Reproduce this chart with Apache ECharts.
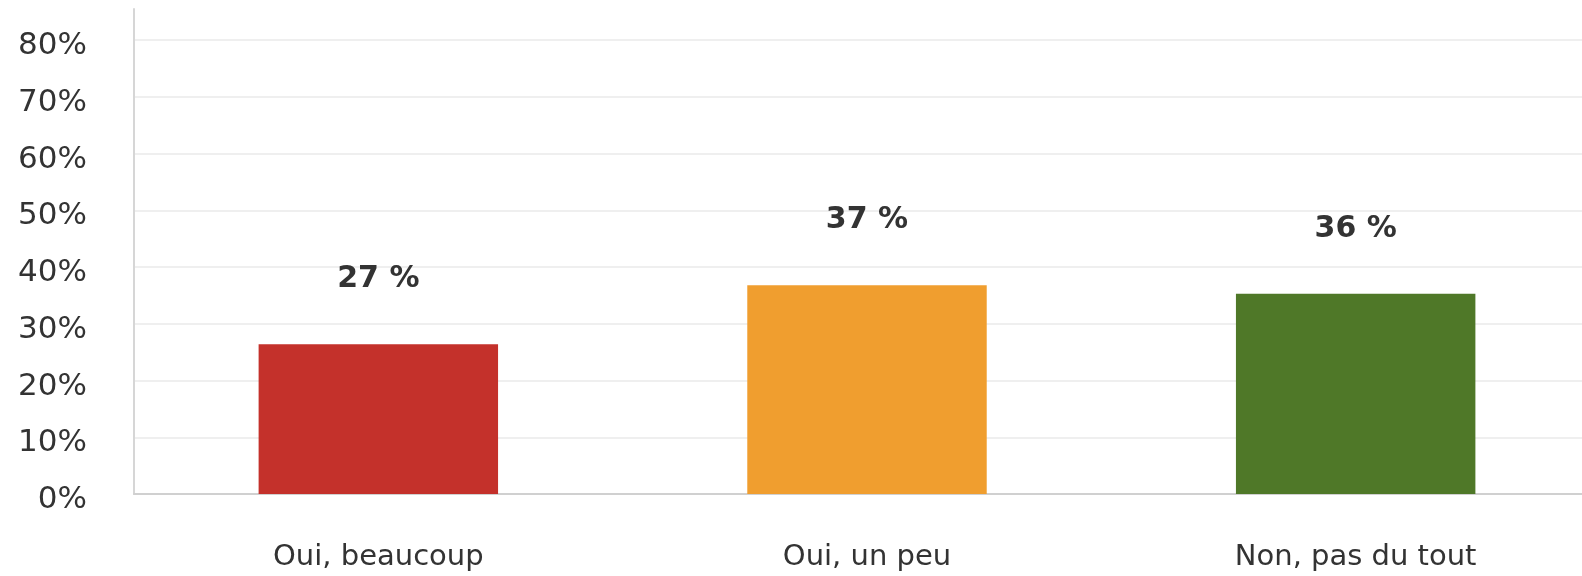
<!DOCTYPE html>
<html>
<head>
<meta charset="utf-8">
<style>
  html, body { margin: 0; padding: 0; background: #ffffff; overflow: hidden; }
  #chart { width: 1600px; height: 576px; }
</style>
<script src="https://cdn.jsdelivr.net/npm/echarts@6/dist/echarts.min.js"></script>
</head>
<body>
<div id="chart"></div>
<script>
const categories = ['Oui, beaucoup', 'Oui, un peu', 'Non, pas du tout'];
const values = [26.4, 36.8, 35.3];
const valueLabels = ['27 %', '37 %', '36 %'];
const barColors = ['#c4312b', '#f09e2f', '#4f7828'];
const yTickStep = 10;
const yMax = 85.5;

const chart = echarts.init(document.getElementById('chart'), null, { renderer: 'canvas' });

const gridColors = [];
for (let v = 0; v <= 80; v += yTickStep) gridColors.push('#efefef');
gridColors.push('rgba(0,0,0,0)');

chart.setOption({
  animation: false,
  backgroundColor: '#ffffff',
  grid: { left: 134, right: 0, top: 9, bottom: 82, containLabel: false },
  xAxis: {
    type: 'category',
    data: categories,
    axisLine: { show: true, lineStyle: { color: '#d0d0d0', width: 2 } },
    axisTick: { show: false },
    axisLabel: {
      margin: 49,
      fontFamily: 'DejaVu Sans',
      fontSize: 29,
      lineHeight: 29,
      color: '#333'
    }
  },
  yAxis: {
    type: 'value',
    min: 0,
    max: yMax,
    interval: yTickStep,
    axisLine: { show: true, lineStyle: { color: '#d6d6d6', width: 2 } },
    axisTick: { show: false },
    splitLine: { show: true, lineStyle: { color: gridColors, width: 2 } },
    axisLabel: {
      margin: 47,
      color: '#333',
      formatter: function (v) { return v % yTickStep === 0 ? '{t|' + v + '%}' : ''; },
      rich: {
        t: {
          fontFamily: 'DejaVu Sans',
          fontSize: 31,
          lineHeight: 31,
          color: '#333',
          padding: [12, 0, 0, 0]
        }
      }
    }
  },
  series: [{
    type: 'bar',
    barWidth: '49%',
    data: values.map(function (v, i) {
      return { value: v, itemStyle: { color: barColors[i] } };
    }),
    label: {
      show: true,
      position: 'top',
      distance: 50,
      fontFamily: 'DejaVu Sans',
      fontWeight: 'bold',
      fontSize: 30,
      lineHeight: 30,
      color: '#333',
      formatter: function (p) { return valueLabels[p.dataIndex]; }
    }
  }]
});
</script>
</body>
</html>
